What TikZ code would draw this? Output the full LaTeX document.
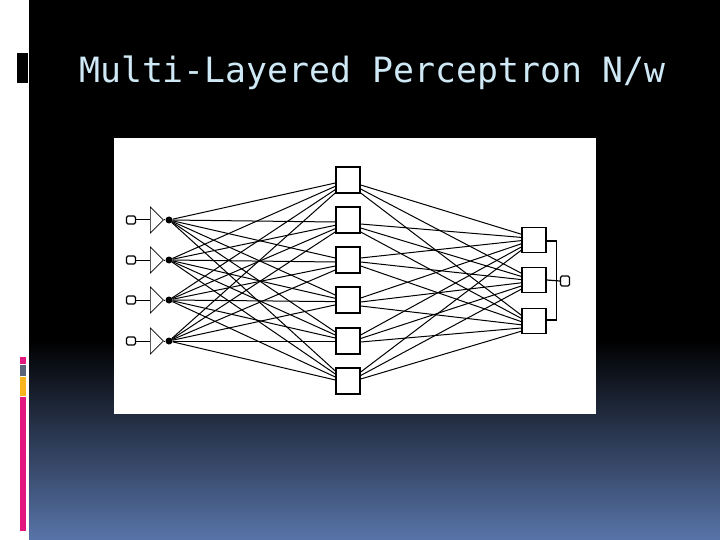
\documentclass[tikz,border=0pt]{standalone}
\usepackage{fontspec}
\setmonofont{DejaVu Sans Mono}
\usepackage{xcolor}
\usepackage{tikz}
\usetikzlibrary{calc,shapes.geometric}
\definecolor{titleblue}{HTML}{CFE8F5}
\definecolor{accentpink}{HTML}{E0187F}
\definecolor{accentgray}{HTML}{5A6478}
\definecolor{accentgold}{HTML}{F9B51E}
\definecolor{floorblue}{HTML}{5874A8}
\tikzset{
  iobox/.style={draw,rounded corners=1.5pt,minimum width=9pt,minimum height=8pt,inner sep=0pt,line width=1.1pt},
  splitter/.style={draw,isosceles triangle,isosceles triangle apex angle=90,isosceles triangle stretches,minimum width=26pt,minimum height=13pt,inner sep=0pt,line width=.7pt},
  hidbox/.style={draw,minimum width=24pt,minimum height=26pt,inner sep=0pt,line width=1.4pt},
  outbox/.style={draw,minimum width=24pt,minimum height=25pt,inner sep=0pt,line width=1.4pt},
  hubdot/.style={circle,fill,inner sep=0pt,minimum size=7pt},
  wire/.style={line width=1pt}
}
\begin{document}
\begin{tikzpicture}[x=1pt,y=-1pt]
  \useasboundingbox (0,0) rectangle (720,540);
  % slide background
  \fill[white] (0,0) rectangle (29,540);
  \fill[black] (29,0) rectangle (720,341);
  \shade[top color=black,bottom color=floorblue] (29,340) rectangle (720,540);
  \fill[black] (17,53) rectangle (28,83);
  \fill[accentpink] (20,357) rectangle (26,364);
  \fill[accentgray] (20,365) rectangle (26,376);
  \fill[accentgold] (20,377) rectangle (26,396);
  \fill[accentpink] (20,397) rectangle (26,531);
  \node[text=titleblue,font=\ttfamily\fontsize{34.8}{35}\selectfont,inner sep=0pt] (title) at (372.5,72.5) {Multi-Layered Perceptron N/w};
  \fill[white] (114,138) rectangle (596,414);
  % input layer
  \foreach \i/\y in {1/220,2/260,3/300,4/341} {
    \node[iobox] (in\i) at (131,\y) {};
    \node[splitter,anchor=lower side] (sp\i) at (150,\y) {};
    \node[hubdot] (hub\i) at (169,\y) {};
    \draw[wire] (in\i) -- (sp\i.lower side);
    \draw[wire] (sp\i.apex) -- (hub\i);
  }
  % hidden layer
  \foreach \i/\y in {1/180,2/220,3/260,4/300,5/341,6/381}
    \node[hidbox] (h\i) at (348,\y) {};
  % output layer
  \foreach \k/\y in {1/240,2/280,3/321}
    \node[outbox] (o\k) at (534,\y) {};
  \node[iobox,minimum height=10pt] (out) at (565,281) {};
  % input to hidden
  \foreach \i/\off/\stp in {1/3/3.3,2/2/3.3,3/-2/4,4/-5/3.3,5/-9/3,6/-10/3}
    \foreach \j in {1,...,4} {
      \coordinate (port) at ($(h\i.west)+(0,\off+\j*\stp-\stp)$);
      \draw[wire] (hub\j) -- (port);
    }
  % hidden to output
  \foreach \i/\off/\stp in {1/5/4,2/4/4,3/-2/4,4/-2/4,5/-6/3.5,6/-9/3.5}
    \foreach \k/\top in {1/-9,2/-10,3/-9} {
      \coordinate (from) at ($(h\i.east)+(0,\off+\k*\stp-\stp)$);
      \coordinate (to) at ($(o\k.west)+(0,\top+\i*3.2)$);
      \draw[wire] (from) -- (to);
    }
  % collector
  \coordinate (bustop) at ($(o1.east)+(10,1)$);
  \coordinate (busbot) at ($(o3.east)+(10,-1)$);
  \draw[line width=1.2pt] (o1.east|-bustop) -- (bustop) -- (busbot) -- (o3.east|-busbot);
  \draw[line width=1.2pt] (o2.east) -- (out.west);
\end{tikzpicture}
\end{document}
